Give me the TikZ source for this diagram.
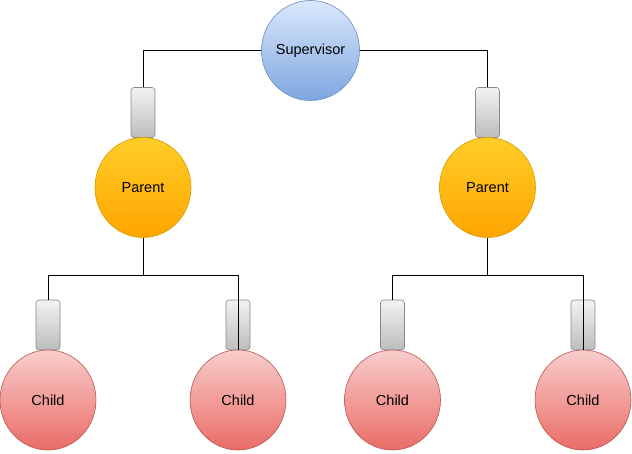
\documentclass[tikz,border=0pt]{standalone}
\usepackage{fontspec}
\setmainfont{Liberation Sans}
\usetikzlibrary{shapes.geometric}
\definecolor{supTop}{HTML}{DAE8FC}
\definecolor{supBot}{HTML}{7EA6E0}
\definecolor{supLine}{HTML}{6C8EBF}
\definecolor{parTop}{HTML}{FFCD28}
\definecolor{parBot}{HTML}{FFA500}
\definecolor{parLine}{HTML}{D79B00}
\definecolor{chTop}{HTML}{F8CECC}
\definecolor{chBot}{HTML}{EA6B66}
\definecolor{chLine}{HTML}{B85450}
\definecolor{gTop}{HTML}{F2F2F2}
\definecolor{gBot}{HTML}{BDBDBD}
\definecolor{gLine}{HTML}{888888}
\tikzset{
  ball/.style={ellipse, minimum width=96pt, minimum height=100pt, inner sep=0pt,
    font=\fontsize{14.5}{16}\selectfont, text=black, line width=0.6pt},
  supball/.style={ball, draw=supLine, top color=supTop, bottom color=supBot, minimum width=97pt},
  parball/.style={ball, draw=parLine, top color=parTop, bottom color=parBot},
  chball/.style={ball, draw=chLine, top color=chTop, bottom color=chBot},
  plug/.style={rectangle, rounded corners=3pt, minimum width=24pt, minimum height=50pt,
    inner sep=0pt, draw=gLine, top color=gTop, bottom color=gBot, line width=0.6pt},
  wire/.style={draw=black, line width=0.8pt}
}
\begin{document}
\begin{tikzpicture}[x=1pt,y=-1pt]
\useasboundingbox (0,0) rectangle (632,454);
% supervisor
\node[supball] (sup) at (310.5,50.5) {Supervisor};
% parents
\node[plug] (pl1) at (143,112.5) {};
\node[parball] (par1) at (143,187.5) {Parent};
\node[plug] (pl2) at (487.5,112.5) {};
\node[parball] (par2) at (487.5,187.5) {Parent};
% children
\node[plug] (cp1) at (48,325) {};
\node[chball] (ch1) at (48,400) {Child};
\node[plug] (cp2) at (238,325) {};
\node[chball] (ch2) at (238,400) {Child};
\node[plug] (cp3) at (392.5,325) {};
\node[chball] (ch3) at (392.5,400) {Child};
\node[plug] (cp4) at (583,325) {};
\node[chball] (ch4) at (583,400) {Child};
% wires
\draw[wire] (sup.west) -| (pl1.north);
\draw[wire] (sup.east) -| (pl2.north);
\coordinate (b1) at (143,275);
\coordinate (b2) at (487.5,275);
\draw[wire] (par1.south) -- (b1) -| (cp1.north);
\draw[wire] (b1) -| (cp2.south);
\draw[wire] (par2.south) -- (b2) -| (cp3.north);
\draw[wire] (b2) -| (cp4.south);
\end{tikzpicture}
\end{document}
